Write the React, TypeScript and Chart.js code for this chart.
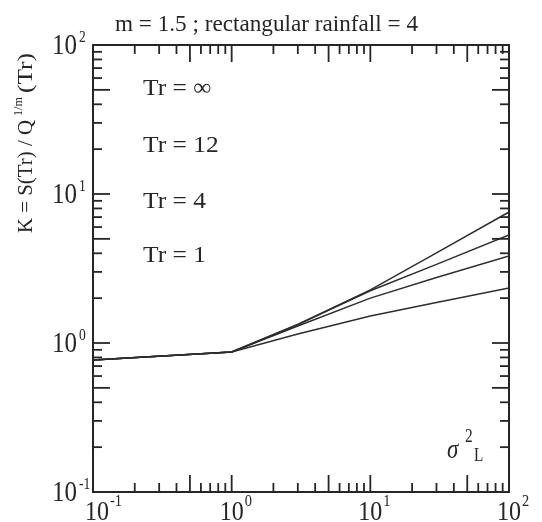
import { useEffect, useRef } from "react";
import { Chart, registerables } from "chart.js";

Chart.register(...registerables);

// ---- data ----
const xValues = [0.1, 1, 3, 10, 30, 100];
const kTrInf = [0.77, 0.87, 1.33, 2.27, 4.03, 7.57];
const kTr12 = [0.77, 0.87, 1.33, 2.24, 3.37, 5.31];
const kTr4 = [0.77, 0.87, 1.3, 2.0, 2.75, 3.84];
const kTr1 = [0.77, 0.87, 1.15, 1.52, 1.87, 2.34];
const seriesNames = ["Tr = ∞", "Tr = 12", "Tr = 4", "Tr = 1"];
const decadeValues = [0.1, 1, 10, 100];
const decadeExponents = ["-1", "0", "1", "2"];
const titleText = "m = 1.5 ; rectangular rainfall = 4";

const FONT = '"Liberation Serif", "Times New Roman", serif';
const INK = "#262626";

function drawFit(
  ctx: CanvasRenderingContext2D,
  text: string,
  x: number,
  y: number,
  px: number,
  width: number | null,
  align: CanvasTextAlign = "left",
  style = "",
  sxFixed = 1
) {
  ctx.save();
  ctx.font = `${style} ${px}px ${FONT}`;
  const w = ctx.measureText(text).width;
  const sx = width ? width / w : sxFixed;
  ctx.translate(x, y);
  ctx.scale(sx, 1);
  ctx.textAlign = align;
  ctx.textBaseline = "alphabetic";
  ctx.fillText(text, 0, 0);
  ctx.restore();
}

const framePlugin = {
  id: "framePlugin",
  afterDraw(chart: any) {
    const { ctx, chartArea: a, scales } = chart;
    const xs = scales.x;
    const ys = scales.y;
    ctx.save();
    ctx.strokeStyle = INK;
    ctx.fillStyle = INK;
    ctx.lineWidth = 2;
    ctx.strokeRect(a.left, a.top, a.right - a.left, a.bottom - a.top);

    const line = (x1: number, y1: number, x2: number, y2: number) => {
      ctx.beginPath();
      ctx.moveTo(x1, y1);
      ctx.lineTo(x2, y2);
      ctx.stroke();
    };
    ctx.lineWidth = 1.8;
    for (let e = -1; e <= 1; e++) {
      for (let m = 1; m <= 9; m++) {
        const v = m * Math.pow(10, e);
        const len = m === 1 || m === 5 ? 17 : 9;
        const px = xs.getPixelForValue(v);
        line(px, a.bottom, px, a.bottom - len);
        line(px, a.top, px, a.top + len);
        const py = ys.getPixelForValue(v);
        line(a.left, py, a.left + len, py);
        line(a.right, py, a.right - len, py);
      }
    }

    // tick labels
    decadeValues.forEach((v, i) => {
      const px = xs.getPixelForValue(v);
      const cx = px + (i === 0 ? 4 : 0);
      drawFit(ctx, "10", cx, 520, 28, 24, "center");
      drawFit(ctx, decadeExponents[i], cx + 13, 506, 17, null, "left", "", 0.85);
      const py = ys.getPixelForValue(v);
      drawFit(ctx, "10", 77, py + 9, 29, 25, "right");
      drawFit(ctx, decadeExponents[i], 79, py - 3, 16, null, "left", "", 0.85);
    });

    // title
    drawFit(ctx, titleText, 115, 31, 24, 303, "left");

    // series labels
    const baselines = [95, 152, 208, 262];
    seriesNames.forEach((name, i) => {
      drawFit(ctx, name, 143, baselines[i], 24, null, "left", "", 1.06);
    });

    // sigma^2_L
    drawFit(ctx, "σ", 447, 458, 27, null, "left", "italic", 0.85);
    drawFit(ctx, "2", 465, 442, 18, null, "left", "", 0.85);
    drawFit(ctx, "L", 474, 461, 18, null, "left", "", 0.85);

    // y axis title (rotated)
    ctx.save();
    ctx.translate(32, 233);
    ctx.rotate(-Math.PI / 2);
    drawFit(ctx, "K = S(Tr) / Q", 0, 0, 20, 113, "left");
    drawFit(ctx, "1/m", 117, -10, 12, 19, "left");
    drawFit(ctx, "(Tr)", 140, 0, 20, 40, "left");
    ctx.restore();

    ctx.restore();
  },
};

export default function App() {
  const ref = useRef<HTMLCanvasElement | null>(null);
  useEffect(() => {
    if (!ref.current) return;
    const series = [kTrInf, kTr12, kTr4, kTr1];
    const chart = new Chart(ref.current, {
      type: "line",
      data: {
        datasets: series.map((s, i) => ({
          label: seriesNames[i],
          data: xValues.map((x, j) => ({ x, y: s[j] })),
          borderColor: "#2e2e2e",
          borderWidth: 1.5,
          pointRadius: 0,
          tension: 0,
          fill: false,
        })),
      },
      options: {
        animation: false,
        responsive: false,
        devicePixelRatio: 1,
        layout: { padding: { left: 93, right: 33, top: 45, bottom: 30 } },
        plugins: {
          legend: { display: false },
          tooltip: { enabled: false },
          title: { display: false },
        },
        scales: {
          x: { type: "logarithmic", min: 0.1, max: 100, display: false },
          y: { type: "logarithmic", min: 0.1, max: 100, display: false },
        },
      },
      plugins: [framePlugin],
    });
    return () => chart.destroy();
  }, []);
  return (
    <div style={{ position: "absolute", left: 0, top: 0, width: 542, height: 522, background: "#fff" }}>
      <canvas ref={ref} width={542} height={522} style={{ display: "block" }} />
    </div>
  );
}
